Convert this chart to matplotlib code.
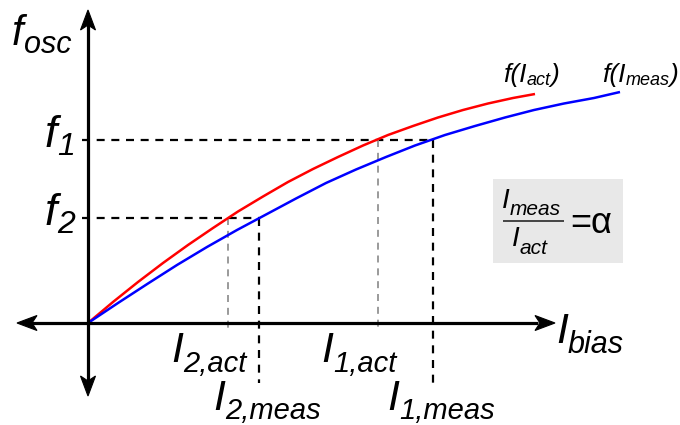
import matplotlib
matplotlib.use("Agg")
import matplotlib.pyplot as plt
from matplotlib.patches import Polygon, Rectangle

# Oscillation frequency against the actual bias current (arbitrary units)
i_act = [0, 25, 50, 75, 100, 125, 150, 175, 200, 225, 250, 275, 300, 325, 350, 375, 400, 425, 447]
f_act = [0, 21, 41, 60, 78, 95, 111.5, 126.5, 141, 154, 166, 177.5, 188, 197, 205.5, 213, 219.5, 225, 229]

# The same frequencies against the measured bias current
i_meas = [0, 30, 60, 89, 119, 149, 179, 208, 238, 268, 298, 327, 357, 387, 417, 446, 476, 506, 532]
f_meas = [0, 20, 39.5, 58, 76, 93, 109, 124.5, 140, 153.5, 166, 177.5, 188, 197, 205.5, 213, 219.5, 225, 231]

# Two operating points: frequency levels and the currents that give them
f_levels = {"1": 183, "2": 105}
i_act_pts = {"1": 290, "2": 140}
i_meas_pts = {"1": 345, "2": 171}

RED = "#ff0000"
BLUE = "#0000ff"
GRAY = "#9a9a9a"

fig = plt.figure(figsize=(6.8, 4.25), dpi=100)
ax = fig.add_axes([0, 0, 1, 1])
ax.set_xlim(-88, 592)
ax.set_ylim(-102, 323)
ax.axis("off")

font = dict(family="Liberation Sans", style="italic", color="black")
rend = fig.canvas.get_renderer()


def run(x, y, parts, **extra):
    """Write consecutive pieces of text: (string, size, baseline shift)."""
    for s, size, dy in parts:
        kw = dict(font)
        kw.update(extra)
        t = ax.text(x, y + dy, s, fontsize=size, ha="left", va="baseline", **kw)
        x += t.get_window_extent(rend).width


def arrowhead(tip, direction, length=20, half=7.5, notch=5):
    tx, ty = tip
    dx, dy = direction
    px, py = -dy, dx
    bx, by = tx - dx * length, ty - dy * length
    nx, ny = tx - dx * (length - notch), ty - dy * (length - notch)
    pts = [(tx, ty), (bx + px * half, by + py * half), (nx, ny), (bx - px * half, by - py * half)]
    ax.add_patch(Polygon(pts, closed=True, fc="black", ec="black", lw=0.8, zorder=5))


# Axes with arrows at both ends
AX_LW = 2.3
ax.plot([-60, 450], [0, 0], color="black", lw=AX_LW, solid_capstyle="butt", zorder=4)
ax.plot([0, 0], [-60, 300], color="black", lw=AX_LW, solid_capstyle="butt", zorder=4)
arrowhead((467, 0), (1, 0))
arrowhead((-71, 0), (-1, 0))
arrowhead((0, 313), (0, 1))
arrowhead((0, -73), (0, -1))

# Guide lines from each frequency level to the currents
dash_k = dict(color="black", lw=1.6, dashes=(3.6, 3.0), zorder=2)
dash_g = dict(color=GRAY, lw=1.4, dashes=(3.6, 3.0), zorder=2)
for k in ("1", "2"):
    f = f_levels[k]
    ax.plot([-6, i_meas_pts[k]], [f, f], **dash_k)
    ax.plot([i_meas_pts[k], i_meas_pts[k]], [f, -60], **dash_k)
    ax.plot([i_act_pts[k], i_act_pts[k]], [f, -9], **dash_g)

# Frequency curves
ax.plot(i_act, f_act, color=RED, lw=1.8, zorder=3, solid_capstyle="butt")
ax.plot(i_meas, f_meas, color=BLUE, lw=1.8, zorder=3, solid_capstyle="butt")

# Axis names
run(-76, 278, [("f", 30, 0), ("osc", 22, -8)])
run(468, -20, [("I", 31, 0), ("bias", 22, -10)])

# Frequency level labels
for k in ("1", "2"):
    run(-43, f_levels[k] - 7, [("f", 32, 0), (k, 23, -8)])

# Current labels
for k in ("1", "2"):
    run(i_act_pts[k] - 57, -39, [("I", 31, 0), (k + ",act", 21, -10)])
    run(i_meas_pts[k] - 46, -87, [("I", 31, 0), (k + ",meas", 21, -9)])

# Curve names
run(415, 241, [("f(I", 19, 0), ("act", 13, -3), (")", 19, 0)])
run(514, 241, [("f(I", 19, 0), ("meas", 13, -3), (")", 19, 0)])

# Ratio box
ax.add_patch(Rectangle((405, 60), 130, 84, fc="#e8e8e8", ec="none", zorder=1))
run(414, 115, [("I", 20, 0), ("meas", 15, -7)])
ax.plot([415, 476], [102, 102], color="#444444", lw=1.4, zorder=3, solid_capstyle="butt")
run(424, 77, [("I", 20, 0), ("act", 15, -8)])
ax.text(482, 90, "=\u03b1", fontsize=26, ha="left", va="baseline",
        family="Liberation Sans", color="black")

fig.savefig("out.png", dpi=100)
